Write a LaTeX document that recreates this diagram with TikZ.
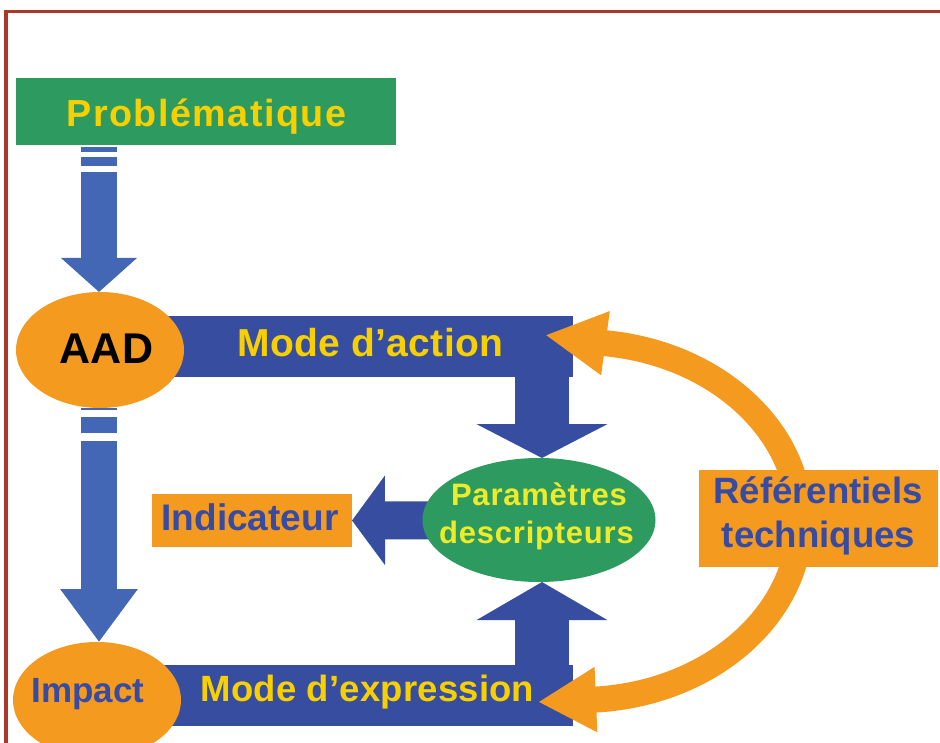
\documentclass[tikz,border=0pt]{standalone}
\usepackage{fontspec}
\setmainfont{Liberation Sans}
\usetikzlibrary{arrows.meta,shapes.geometric}

\pgfdeclarelayer{paper}
\pgfdeclarelayer{bars}
\pgfdeclarelayer{links}
\pgfsetlayers{paper,bars,links,main}

\definecolor{frameRed}{RGB}{170,55,40}
\definecolor{leafGreen}{RGB}{45,155,95}
\definecolor{warmOrange}{RGB}{243,154,31}
\definecolor{barBlue}{RGB}{55,78,160}
\definecolor{flowBlue}{RGB}{68,103,181}
\definecolor{labelYellow}{RGB}{248,208,0}
\definecolor{paramYellow}{RGB}{240,235,40}
\definecolor{inkBlue}{RGB}{55,75,165}

\newcommand{\setfs}[1]{\fontsize{#1}{#1}\selectfont}

\begin{document}
\begin{tikzpicture}[x=1pt,y=-1pt,
  plainbox/.style={rectangle, inner sep=0pt, outer sep=0pt},
  oval/.style={ellipse, inner sep=0pt, outer sep=0pt},
  bandbar/.style={rectangle, fill=barBlue, inner sep=0pt, outer sep=0pt,
    minimum width=433, minimum height=61},
  lbl/.style={inner sep=0pt, outer sep=0pt, anchor=base},
  sidearrow/.style={draw=flowBlue, line width=36},
]
\useasboundingbox (0,0) rectangle (940,743);
\begin{pgfonlayer}{paper}
\fill[white] (0,0) rectangle (940,743);
% frame of the figure
\draw[frameRed, line width=3.5] (6,743) -- (6,11.5) -- (940,11.5);
\end{pgfonlayer}

% boxes and ovals
\node[plainbox, fill=leafGreen, minimum width=380, minimum height=67] (prob) at (206,111.5) {};
\node[oval, fill=warmOrange, minimum width=168, minimum height=116] (aad) at (100,350) {};
\node[oval, fill=warmOrange, minimum width=168, minimum height=116] (impact) at (97,700) {};
\node[oval, fill=leafGreen, minimum width=233, minimum height=124] (param) at (539,520) {};
\node[plainbox, fill=warmOrange, minimum width=200, minimum height=53] (indic) at (252,520.5) {};
\node[plainbox, fill=warmOrange, minimum width=239, minimum height=97] (refs) at (818.5,518.5) {};

% horizontal bands
\begin{pgfonlayer}{bars}
\node[bandbar] (action) at (356.5,346.5) {};
\node[bandbar] (expr) at (356.5,695.5) {};
\end{pgfonlayer}

% helper columns and tails
\coordinate (lcol) at (99,0);
\coordinate (ccol) at (542,0);
\coordinate (probtail) at (99,172);
\coordinate (aadtail) at (99,441);
\coordinate (tipA) at (545,335);
\coordinate (tipB) at (538,702);
\coordinate (arcB) at (595.3,699.6);

\begin{pgfonlayer}{links}
% Problématique -> AAD (striped tail)
\draw[sidearrow, dash pattern=on 5pt off 5pt on 9pt off 8pt, dash phase=25pt]
  (prob.south -| lcol) -- (probtail);
\draw[sidearrow, flowBlue, -{Triangle[length=34pt,width=74pt]}]
  (probtail) -- (lcol |- aad.north);
% AAD -> Impact (striped tail)
\draw[sidearrow, dash pattern=on 2pt off 7pt on 16pt off 8pt]
  (lcol |- aad.south) -- (aadtail);
\draw[sidearrow, flowBlue, -{Triangle[length=53pt,width=74pt]}]
  (aadtail) -- (lcol |- impact.north);
% bands -> Paramètres descripteurs
\draw[barBlue, line width=54, -{Triangle[length=34pt,width=130pt]}]
  (ccol |- action.center) -- (ccol |- param.north);
\draw[barBlue, line width=54, -{Triangle[length=38pt,width=129pt]}]
  (ccol |- expr.center) -- (ccol |- param.south);
% Paramètres descripteurs -> Indicateur
\draw[barBlue, line width=38, -{Triangle[length=33pt,width=88pt]}]
  (param.center) -- (indic.east);
% Référentiels techniques: double curved arrow
\draw[warmOrange, line width=26,
  {Triangle[length=58pt,width=61pt]}-{Triangle[length=61pt,width=60pt]}]
  (tipB) -- (arcB) arc[start angle=86, end angle=-83, x radius=220, y radius=179] -- (tipA);
\end{pgfonlayer}

% texts
\node[lbl, text=labelYellow, font=\bfseries\setfs{37.7}\addfontfeature{LetterSpace=4}] (probtxt) at (206.5,127) {Problématique};
\node[lbl, text=black, font=\bfseries\setfs{43}] (aadtxt) at (106.5,363) {AAD};
\node[lbl, text=labelYellow, font=\bfseries\setfs{39}\addfontfeature{LetterSpace=0.8}] (actiontxt) at (370.5,356) {Mode d’action};
\node[lbl, text=inkBlue, font=\bfseries\setfs{37}] (indictxt) at (250,530) {Indicateur};
\node[lbl, text=paramYellow, font=\bfseries\setfs{31}\addfontfeature{LetterSpace=2.5}] (paramtxtA) at (539,505) {Paramètres};
\node[lbl, text=paramYellow, font=\bfseries\setfs{31}\addfontfeature{LetterSpace=2.5}] (paramtxtB) at (536.5,543) {descripteurs};
\node[lbl, text=inkBlue, font=\bfseries\setfs{36.6}] (refstxtA) at (818,503) {Référentiels};
\node[lbl, text=inkBlue, font=\bfseries\setfs{36.6}] (refstxtB) at (818.5,547) {techniques};
\node[lbl, text=inkBlue, font=\bfseries\setfs{35}] (impacttxt) at (88,702) {Impact};
\node[lbl, text=labelYellow, font=\bfseries\setfs{36.5}\addfontfeature{LetterSpace=0.5}] (exprtxt) at (367.5,701) {Mode d’expression};
\end{tikzpicture}
\end{document}
